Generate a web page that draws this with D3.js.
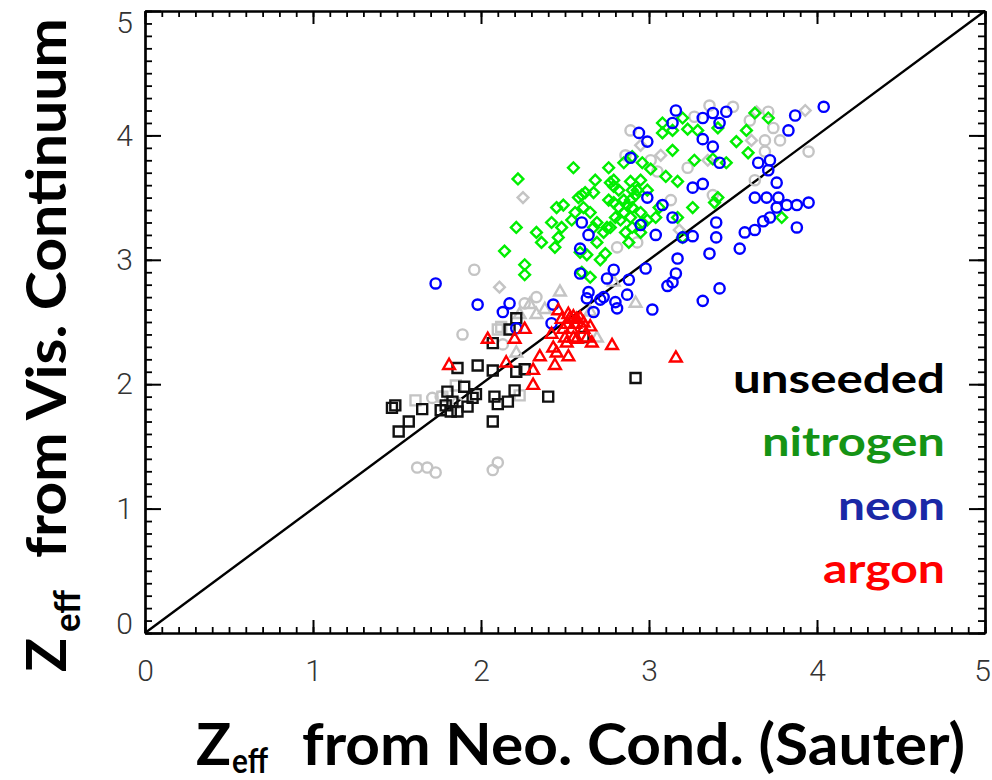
<!DOCTYPE html>
<html><head><meta charset="utf-8">
<script src="https://cdn.jsdelivr.net/npm/d3@7"></script>
<style>body{margin:0;background:#fff;} svg{display:block;}</style>
</head><body><svg id="chart" width="992" height="780"></svg>
<script>
// ---------- DATA ----------
const xTicks = [0, 1, 2, 3, 4, 5];
const yTicks = [0, 1, 2, 3, 4, 5];
const legendLabels = ["unseeded", "nitrogen", "neon", "argon"];
const legendColors = ["#000000", "#159315", "#1a28a6", "#ff0000"];

const unseeded = [[1.47,1.81],[1.49,1.83],[1.51,1.62],[1.57,1.70],[1.65,1.80],[1.76,1.79],[1.79,1.83],[1.80,1.94],[1.82,1.78],[1.83,1.86],[1.86,2.13],[1.86,1.78],[1.90,1.98],[1.92,1.82],[1.95,1.89],[1.97,1.92],[1.98,2.15],[2.07,2.11],[2.08,1.90],[2.10,1.84],[2.16,1.86],[2.20,1.95],[2.21,2.10],[2.26,2.12],[2.40,1.90],[2.07,1.70],[2.21,2.53],[2.17,2.44],[2.92,2.05],[2.61,2.38],[2.07,2.33]];
const unseededGray = [[1.61,1.87],[1.77,1.90],[2.10,2.44],[2.12,2.46],[2.23,1.91],[1.85,1.99]];

const nitrogen = [[2.22,3.65],[2.55,3.74],[2.76,3.74],[2.85,3.78],[2.90,3.83],[2.96,3.78],[2.68,3.64],[2.79,3.64],[2.89,3.63],[2.95,3.64],[2.21,3.26],[2.14,3.07],[2.26,2.96],[2.26,2.88],[2.33,3.22],[2.36,3.14],[2.42,3.30],[2.45,3.42],[2.49,3.44],[2.48,3.26],[2.46,3.18],[2.44,3.10],[2.54,3.32],[2.58,3.50],[2.60,3.52],[2.62,3.54],[2.67,3.54],[2.56,3.38],[2.61,3.42],[2.65,3.38],[2.69,3.30],[2.73,3.22],[2.77,3.26],[2.67,3.26],[2.59,3.06],[2.63,3.04],[2.69,3.14],[2.71,3.00],[2.74,3.05],[2.60,2.90],[2.65,2.86],[2.77,3.62],[2.79,3.59],[2.82,3.56],[2.76,3.48],[2.79,3.46],[2.85,3.48],[2.87,3.44],[2.89,3.48],[2.92,3.52],[2.93,3.56],[2.99,3.56],[2.90,3.42],[2.85,3.38],[2.83,3.32],[2.89,3.34],[2.96,3.30],[2.90,3.26],[2.86,3.22],[2.80,3.34],[2.82,3.42],[2.88,3.14],[2.95,3.22],[2.99,3.32],[3.08,4.10],[3.08,4.02],[3.14,4.04],[3.20,4.14],[3.23,4.05],[3.29,4.04],[3.41,4.06],[3.63,4.18],[3.71,4.14],[3.58,4.04],[3.52,3.95],[3.59,3.86],[3.14,3.88],[3.27,3.80],[3.38,3.81],[3.46,3.78],[3.01,3.73],[3.10,3.67],[3.17,3.63],[2.90,3.56],[3.41,3.50],[3.39,3.46],[3.26,3.42],[3.06,3.42],[3.04,3.34],[3.17,3.34],[2.95,3.38],[3.79,3.34],[3.20,3.18],[2.75,3.26]];
const nitrogenGray = [[2.25,3.50],[2.11,2.78],[3.93,4.20],[3.61,3.96],[3.07,3.84],[3.35,3.80],[2.95,3.92],[3.64,4.19],[3.18,3.24]];

const neon = [[3.04,3.20],[3.20,3.18],[3.26,3.19],[3.40,3.18],[3.57,3.22],[3.63,3.24],[3.88,3.26],[3.36,3.05],[3.54,3.09],[3.17,3.01],[3.16,2.89],[3.14,2.82],[3.11,2.79],[3.42,2.77],[3.32,2.67],[2.98,2.93],[2.88,2.84],[2.79,2.92],[2.75,2.85],[2.87,2.72],[2.80,2.66],[2.81,2.61],[2.73,2.70],[3.02,2.60],[3.16,4.20],[3.38,4.18],[3.46,4.19],[3.32,4.14],[3.42,4.10],[3.14,4.10],[2.94,4.02],[2.99,3.95],[3.32,3.97],[3.38,3.91],[3.87,4.16],[4.04,4.23],[3.83,4.04],[3.65,3.78],[3.72,3.80],[3.71,3.72],[3.42,3.78],[2.89,3.82],[3.26,3.58],[3.32,3.61],[3.76,3.62],[3.63,3.50],[3.70,3.50],[3.77,3.50],[3.76,3.42],[3.82,3.44],[3.88,3.44],[3.95,3.46],[3.72,3.34],[3.68,3.31],[3.40,3.30],[3.14,3.34],[2.95,3.28],[2.99,3.50],[3.08,3.44],[2.64,3.20],[2.60,3.30],[2.59,2.89],[1.73,2.81],[1.98,2.64],[2.13,2.58],[2.17,2.65],[2.21,2.45],[2.42,2.49],[2.43,2.64],[2.64,2.74],[2.63,2.69],[2.71,2.68],[2.67,2.58],[2.59,3.09]];
const neonGray = [[1.62,1.33],[1.68,1.33],[1.73,1.29],[2.07,1.31],[2.10,1.37],[1.96,2.92],[1.89,2.40],[2.26,2.65],[2.33,2.70],[1.71,1.89],[1.76,1.90],[1.86,1.85],[2.13,2.32],[2.89,4.04],[2.81,3.10],[2.93,3.14],[2.86,3.84],[3.36,4.24],[3.27,4.15],[3.71,4.19],[3.74,4.06],[3.69,3.96],[3.95,3.87],[3.69,3.87],[3.63,3.64],[3.23,3.74],[3.13,3.48],[3.05,3.71],[3.38,3.52],[3.50,4.23],[3.60,4.12],[3.78,3.96],[3.01,3.80]];

const argon = [[2.46,2.59],[2.52,2.56],[2.53,2.53],[2.55,2.54],[2.57,2.52],[2.59,2.53],[2.61,2.49],[2.65,2.46],[2.51,2.48],[2.49,2.44],[2.54,2.44],[2.61,2.44],[2.42,2.40],[2.50,2.37],[2.55,2.37],[2.51,2.33],[2.57,2.36],[2.63,2.37],[2.66,2.33],[2.78,2.31],[2.26,2.44],[2.20,2.36],[2.04,2.36],[2.43,2.29],[2.35,2.22],[2.45,2.25],[2.44,2.15],[2.52,2.22],[2.15,2.17],[1.81,2.15],[2.31,2.11],[2.31,1.99],[3.16,2.21],[2.48,2.52],[2.56,2.48]];
const argonGray = [[2.47,2.74],[2.33,2.56],[2.38,2.60],[2.92,2.65],[2.69,2.37],[2.21,2.25],[2.65,2.58],[2.79,2.82],[2.29,2.64],[2.23,2.56]];

// ---------- CHART ----------
const svg = d3.select("#chart");
const x = d3.scaleLinear().domain([0, 5]).range([145, 985]);
const y = d3.scaleLinear().domain([0, 5]).range([633, 11]);

const GRAY = "#c4c4c4";
const layers = [
  {data: neonGray, shape: "circle", color: GRAY},
  {data: nitrogenGray, shape: "diamond", color: GRAY},
  {data: argonGray, shape: "triangle", color: GRAY},
  {data: unseededGray, shape: "square", color: GRAY},
  {data: unseeded, shape: "square", color: "#111"},
  {data: nitrogen, shape: "diamond", color: "#00ee00"},
  {data: neon, shape: "circle", color: "#0000ff"},
  {data: argon, shape: "triangle", color: "#ff0000"}
];
const symGen = {
  circle: d3.symbol().type(d3.symbolCircle).size(82),
  square: d3.symbol().type(d3.symbolSquare).size(100),
  diamond: d3.symbol().type(d3.symbolSquare).size(58),
  triangle: d3.symbol().type(d3.symbolTriangle).size(60)
};

// diagonal line y = x
svg.append("line")
  .attr("x1", x(0)).attr("y1", y(0)).attr("x2", x(5)).attr("y2", y(5))
  .attr("stroke", "#000").attr("stroke-width", 2.4);

layers.forEach(L => {
  svg.append("g").selectAll("path").data(L.data).join("path")
    .attr("d", symGen[L.shape]())
    .attr("transform", d => `translate(${x(d[0])},${y(d[1])})` + (L.shape === "diamond" ? " rotate(45)" : ""))
    .attr("fill", "none").attr("stroke", L.color).attr("stroke-width", 2.4);
});

// axes (ticks pointing inward on all four sides)
function styleAxis(g, w) {
  g.selectAll(".domain").attr("stroke", "#000").attr("stroke-width", 2.2);
  g.selectAll(".tick line").attr("stroke", "#000").attr("stroke-width", w);
}
const gb1 = svg.append("g").attr("transform", `translate(0,${y(0)})`)
  .call(d3.axisBottom(x).ticks(50).tickSize(-6).tickSizeOuter(0).tickFormat(""));
styleAxis(gb1, 1.8);
const gb2 = svg.append("g").attr("transform", `translate(0,${y(0)})`)
  .call(d3.axisBottom(x).tickValues(xTicks).tickSize(-13).tickSizeOuter(0).tickPadding(27).tickFormat(d3.format("d")));
styleAxis(gb2, 2);
gb2.selectAll(".tick text").attr("x", d => d === 5 ? -3 : 0);

const gt1 = svg.append("g").attr("transform", `translate(0,${y(5)})`)
  .call(d3.axisTop(x).ticks(50).tickSize(-6).tickSizeOuter(0).tickFormat(""));
styleAxis(gt1, 1.8);
const gt2 = svg.append("g").attr("transform", `translate(0,${y(5)})`)
  .call(d3.axisTop(x).tickValues(xTicks).tickSize(-13).tickSizeOuter(0).tickFormat(""));
styleAxis(gt2, 2);

const gl1 = svg.append("g").attr("transform", `translate(${x(0)},0)`)
  .call(d3.axisLeft(y).ticks(50).tickSize(-7).tickSizeOuter(0).tickFormat(""));
styleAxis(gl1, 1.8);
const gl2 = svg.append("g").attr("transform", `translate(${x(0)},0)`)
  .call(d3.axisLeft(y).tickValues(yTicks).tickSize(-16).tickSizeOuter(0).tickPadding(12).tickFormat(d3.format("d")));
styleAxis(gl2, 2);
// end labels sit slightly inside the plot's vertical extent, as in the source figure
gl2.selectAll(".tick text").attr("y", d => d === 5 ? 12 : d === 0 ? -9 : 0);

const gr1 = svg.append("g").attr("transform", `translate(${x(5)},0)`)
  .call(d3.axisRight(y).ticks(50).tickSize(-7).tickSizeOuter(0).tickFormat(""));
styleAxis(gr1, 1.8);
const gr2 = svg.append("g").attr("transform", `translate(${x(5)},0)`)
  .call(d3.axisRight(y).tickValues(yTicks).tickSize(-16).tickSizeOuter(0).tickFormat(""));
styleAxis(gr2, 2);

svg.selectAll(".tick text")
  .attr("font-family", "Roboto, 'DejaVu Sans', sans-serif")
  .attr("font-weight", 300).attr("font-size", 30).attr("fill", "#333");

// legend
const TITLE_FONT = "Lato, 'Open Sans', sans-serif";
const legendBase = [393, 456, 520, 583];
const legendLen = [212, 183, 107, 122];
svg.append("g").selectAll("text").data(legendLabels).join("text")
  .attr("x", 945).attr("y", (d, i) => legendBase[i])
  .attr("text-anchor", "end")
  .attr("font-family", TITLE_FONT).attr("font-weight", 700).attr("font-size", 41)
  .attr("textLength", (d, i) => legendLen[i]).attr("lengthAdjust", "spacingAndGlyphs")
  .attr("fill", (d, i) => legendColors[i])
  .text(d => d);

// x-axis title
const xt = svg.append("g").attr("font-family", TITLE_FONT).attr("font-weight", 700).attr("fill", "#000");
xt.append("text").attr("x", 196).attr("y", 765).attr("font-size", 58).text("Z");
xt.append("text").attr("x", 232).attr("y", 773).attr("font-size", 34).attr("textLength", 36).attr("lengthAdjust", "spacingAndGlyphs").text("eff");
xt.append("text").attr("x", 302).attr("y", 765).attr("font-size", 58)
  .attr("textLength", 663).attr("lengthAdjust", "spacingAndGlyphs").text("from Neo. Cond. (Sauter)");

// y-axis title (rotated)
const yt = svg.append("g").attr("font-family", TITLE_FONT).attr("font-weight", 700).attr("fill", "#000");
yt.append("text").attr("transform", "translate(66,672) rotate(-90)").attr("font-size", 56).text("Z");
yt.append("text").attr("transform", "translate(80,632) rotate(-90)").attr("font-size", 36)
  .attr("textLength", 42).attr("lengthAdjust", "spacingAndGlyphs").text("eff");
yt.append("text").attr("transform", "translate(66,558) rotate(-90)").attr("font-size", 56)
  .attr("textLength", 540).attr("lengthAdjust", "spacingAndGlyphs").text("from Vis. Continuum");
</script></body></html>
